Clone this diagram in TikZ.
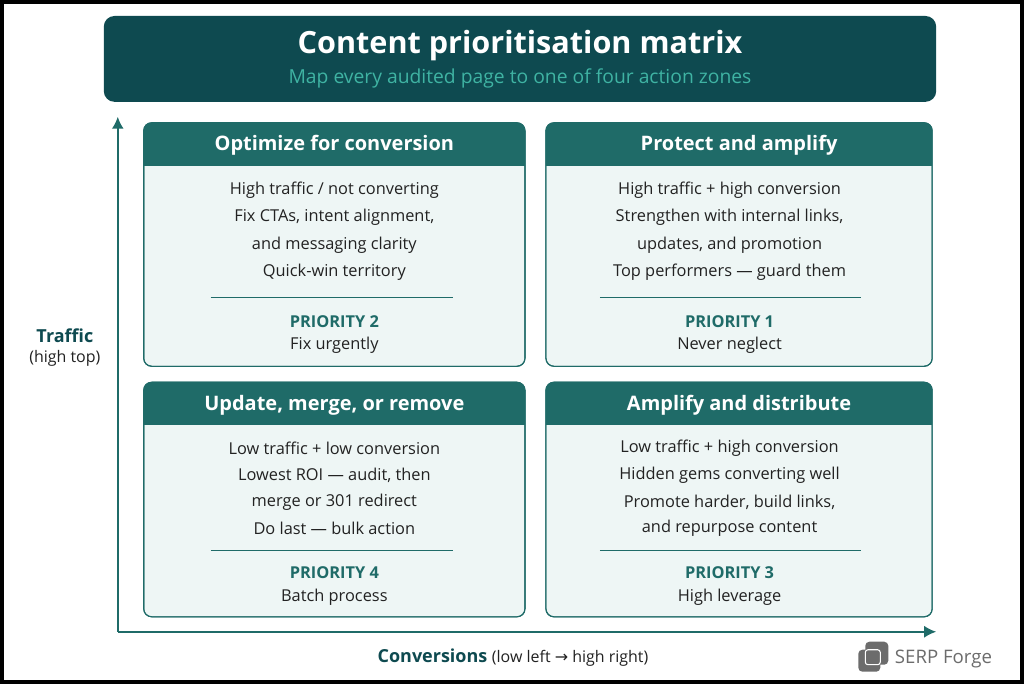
\documentclass[tikz,border=0pt]{standalone}
\usepackage{fontspec}
\setmainfont{Open Sans}
\newfontfamily\symfont{DejaVu Sans}
\usetikzlibrary{positioning}
\definecolor{deepteal}{HTML}{0E4A50}
\definecolor{midteal}{HTML}{1F6B68}
\definecolor{subteal}{HTML}{3FB3A3}
\definecolor{paleteal}{HTML}{EEF6F5}
\definecolor{inkgray}{HTML}{222222}
\tikzstyle{quadbox} = [draw=midteal, line width=0.8pt, fill=paleteal, rounded corners=6pt]
\tikzstyle{quadhead} = [font=\bfseries\fontsize{15}{17}\selectfont, text=white]
\tikzstyle{bodytext} = [font=\fontsize{12.3}{14}\selectfont, text=inkgray]
\tikzstyle{prio} = [font=\bfseries\fontsize{12.3}{14}\selectfont, text=midteal]
\tikzstyle{axis} = [draw=midteal, line width=1.3pt, -{Latex[length=9pt,width=9pt]}]
\usetikzlibrary{arrows.meta}
\begin{document}
\begin{tikzpicture}[x=0.75pt,y=-0.75pt]
	% frame
	\fill[white] (0,0) rectangle (1024,683);
	\draw[line width=3pt] (1,1) rectangle (1023,682);
	% header
	\fill[deepteal, rounded corners=8pt] (103,15) rectangle (937,101);
	\node [font=\bfseries\fontsize{23}{26}\selectfont, text=white] (title) at (520,45) {Content prioritisation matrix};
	\node [font=\fontsize{14.5}{17}\selectfont, text=subteal] (subtitle) at (520,78) {Map every audited page to one of four action zones};
	% quadrants
	\foreach \xa/\xb/\ya/\yb/\head [count=\i] in {143/525/122/366/Optimize for conversion, 546/933/122/366/Protect and amplify, 143/525/382/617/{Update, merge, or remove}, 546/933/382/617/Amplify and distribute} {
		\draw[quadbox] (\xa,\ya) rectangle (\xb,\yb);
		\begin{scope}
			\clip[rounded corners=6pt] (\xa,\ya) rectangle (\xb,\yb);
			\fill[midteal] (\xa,\ya) rectangle (\xb,\ya+43);
		\end{scope}
		\draw[midteal, line width=0.8pt, rounded corners=6pt] (\xa,\ya) rectangle (\xb,\yb);
		\node [quadhead] (head\i) at ({(\xa+\xb)/2},\ya+23) {\head};
	}
	% top left
	\node [bodytext] (tl1) at (334,190) {High traffic / not converting};
	\node [bodytext] (tl2) at (334,217) {Fix CTAs, intent alignment,};
	\node [bodytext] (tl3) at (334,245) {and messaging clarity};
	\node [bodytext] (tl4) at (334,272) {Quick-win territory};
	\draw[midteal, line width=0.6pt] (210,297) -- (453,297);
	\node [prio] (tlp) at (334,321) {PRIORITY 2};
	\node [bodytext] (tln) at (334,345) {Fix urgently};
	% top right
	\node [bodytext] (tr1) at (730,190) {High traffic + high conversion};
	\node [bodytext] (tr2) at (730,217) {Strengthen with internal links,};
	\node [bodytext] (tr3) at (730,245) {updates, and promotion};
	\node [bodytext] (tr4) at (730,272) {Top performers — guard them};
	\draw[midteal, line width=0.6pt] (600,297) -- (862,297);
	\node [prio] (trp) at (730,321) {PRIORITY 1};
	\node [bodytext] (trn) at (730,345) {Never neglect};
	% bottom left
	\node [bodytext] (bl1) at (334,448) {Low traffic + low conversion};
	\node [bodytext] (bl2) at (334,475) {Lowest ROI — audit, then};
	\node [bodytext] (bl3) at (334,502) {merge or 301 redirect};
	\node [bodytext] (bl4) at (334,528) {Do last — bulk action};
	\draw[midteal, line width=0.6pt] (210,550) -- (453,550);
	\node [prio] (blp) at (334,573) {PRIORITY 4};
	\node [bodytext] (bln) at (334,597) {Batch process};
	% bottom right
	\node [bodytext] (br1) at (730,448) {Low traffic + high conversion};
	\node [bodytext] (br2) at (730,475) {Hidden gems converting well};
	\node [bodytext] (br3) at (730,502) {Promote harder, build links,};
	\node [bodytext] (br4) at (730,528) {and repurpose content};
	\draw[midteal, line width=0.6pt] (600,550) -- (862,550);
	\node [prio] (brp) at (730,573) {PRIORITY 3};
	\node [bodytext] (brn) at (730,597) {High leverage};
	% axes
	\coordinate (origin) at (117,632);
	\coordinate (ytip) at (117,116);
	\coordinate (xtip) at (937,632);
	\draw[axis] (origin) -- (ytip);
	\draw[axis] (origin) -- (xtip);
	\node [font=\bfseries\fontsize{13.5}{15}\selectfont, text=deepteal] (ylab) at (64,335) {Traffic};
	\node [font=\fontsize{12}{14}\selectfont, text=inkgray] (ylab2) at (64,358) {(high top)};
	\node [text=deepteal] (xlab) at (513,658) {\bfseries\fontsize{13.5}{15}\selectfont Conversions \mdseries\fontsize{12}{14}\selectfont\color{inkgray}(low left {\symfont →} high right)};
	% logo
	\fill[gray!85!black, rounded corners=3pt] (859,650) rectangle (881,672);
	\fill[gray!85!black, rounded corners=3pt] (866,642) rectangle (889,665);
	\draw[white, line width=0.8pt, rounded corners=2pt] (866,650) rectangle (881,665);
	\node [font=\fontsize{14}{16}\selectfont, text=gray!85!black, anchor=west] (brand) at (891,659) {SERP Forge};
\end{tikzpicture}
\end{document}
